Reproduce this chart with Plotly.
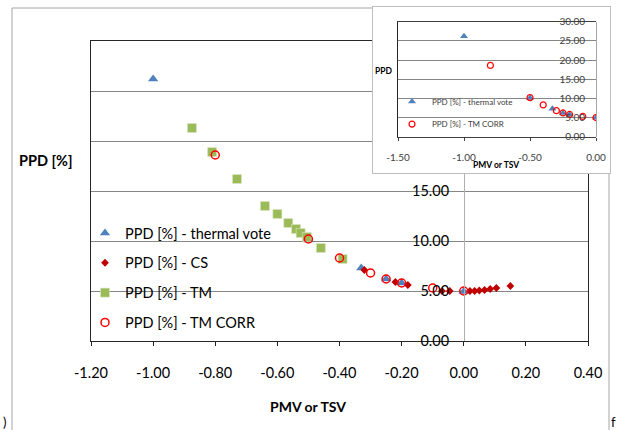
import plotly.graph_objects as go

W, H = 619, 430


def px_x(p):
    return p / W


def px_y(p):
    return 1 - p / H


# ---------------- data ----------------
series_names = ["PPD [%] - thermal vote", "PPD [%] - CS", "PPD [%] - TM", "PPD [%] - TM CORR"]

tv_x = [-1.00, -0.50, -0.33, -0.25, -0.20, 0.00]
tv_y = [26.2, 10.1, 7.3, 6.2, 5.8, 4.95]

cs_x = [-0.32, -0.22, -0.18, -0.07, -0.045, 0.02, 0.035, 0.05, 0.067, 0.085, 0.105, 0.15]
cs_y = [7.1, 5.9, 5.6, 5.0, 5.0, 5.0, 5.0, 5.05, 5.1, 5.2, 5.3, 5.5]

tm_x = [-0.875, -0.81, -0.73, -0.64, -0.60, -0.565, -0.54, -0.525, -0.505, -0.46, -0.39]
tm_y = [21.3, 18.9, 16.2, 13.5, 12.7, 11.8, 11.2, 10.8, 10.4, 9.3, 8.2]

tmc_x = [-0.80, -0.50, -0.40, -0.30, -0.25, -0.20, -0.10, 0.00]
tmc_y = [18.6, 10.2, 8.3, 6.8, 6.2, 5.8, 5.3, 5.0]

main_xticks = [-1.2, -1.0, -0.8, -0.6, -0.4, -0.2, 0.0, 0.2, 0.4]
main_xlabels = ["-1.20", "-1.00", "-0.80", "-0.60", "-0.40", "-0.20", "0.00", "0.20", "0.40"]
main_yticks = [0, 5, 10, 15, 20, 25, 30]

inset_xticks = [-1.5, -1.0, -0.5, 0.0]
inset_xlabels = ["-1.50", "-1.00", "-0.50", "0.00"]
inset_yticks = [0, 5, 10, 15, 20, 25, 30]

# ---------------- styles ----------------
BLUE = "#4F81BD"
DRED = "#C00000"
GREEN = "#9BBB59"
RED = "#FF0000"
FONT = "Lato"
DARK = "#262626"
GRID = "#868686"

fig = go.Figure()

# main chart traces
fig.add_trace(go.Scatter(x=tv_x, y=tv_y, mode="markers", name=series_names[0], legendgroup="g1",
                         marker=dict(symbol="triangle-up", size=9, color=BLUE),
                         xaxis="x", yaxis="y", hoverinfo="skip"))
fig.add_trace(go.Scatter(x=cs_x, y=cs_y, mode="markers", name=series_names[1], legendgroup="g2",
                         marker=dict(symbol="diamond", size=6, color=DRED),
                         xaxis="x", yaxis="y", hoverinfo="skip"))
fig.add_trace(go.Scatter(x=tm_x, y=tm_y, mode="markers", name=series_names[2], legendgroup="g3",
                         marker=dict(symbol="square", size=9, color=GREEN,
                                     line=dict(width=0.6, color="#dbe8c4")),
                         xaxis="x", yaxis="y", hoverinfo="skip"))
fig.add_trace(go.Scatter(x=tmc_x, y=tmc_y, mode="markers", name=series_names[3], legendgroup="g4",
                         marker=dict(symbol="circle-open", size=8, color=RED, line=dict(width=1.5)),
                         xaxis="x", yaxis="y", hoverinfo="skip"))
# overlay axis used only for left/right plot-area border
fig.add_trace(go.Scatter(x=[None], y=[None], xaxis="x", yaxis="y4", showlegend=False, hoverinfo="skip"))

# inset frame (white box)
fig.add_trace(go.Scatter(x=[None], y=[None], xaxis="x2", yaxis="y2", showlegend=False, hoverinfo="skip"))

# inset traces
fig.add_trace(go.Scatter(x=tv_x, y=tv_y, mode="markers", name=series_names[0], legend="legend2",
                         legendgroup="h1",
                         marker=dict(symbol="triangle-up", size=7, color=BLUE),
                         xaxis="x3", yaxis="y3", hoverinfo="skip"))
fig.add_trace(go.Scatter(x=tmc_x, y=tmc_y, mode="markers", name=series_names[3], legend="legend2",
                         legendgroup="h2",
                         marker=dict(symbol="circle-open", size=6, color=RED, line=dict(width=1.2)),
                         xaxis="x3", yaxis="y3", hoverinfo="skip"))
fig.add_trace(go.Scatter(x=[None], y=[None], xaxis="x3", yaxis="y5", showlegend=False, hoverinfo="skip"))

tick_font = dict(family=FONT, size=14.5, color="#000000")
inset_font = dict(family=FONT, size=10, color="#404040")

fig.update_layout(
    width=W, height=H, autosize=False,
    margin=dict(l=0, r=0, t=0, b=0, pad=0),
    paper_bgcolor="white", plot_bgcolor="white",
    showlegend=True,
    xaxis=dict(domain=[px_x(91), px_x(588)], range=[-1.2, 0.4], anchor="y",
               tickvals=main_xticks, ticktext=main_xlabels, tickfont=tick_font,
               showgrid=False, zeroline=False, showline=True, mirror=True,
               linecolor=DARK, linewidth=1.2, ticks="outside", ticklen=4, tickcolor=DARK,
               ticklabelstandoff=14, fixedrange=True, automargin=False),
    yaxis=dict(domain=[px_y(341), px_y(41)], range=[0, 30], anchor="free", position=px_x(464),
               side="left", tickvals=main_yticks, tickformat=".2f", tickfont=tick_font,
               showline=True, linecolor="#b0b0b0", linewidth=1,
               showgrid=True, gridcolor=GRID, gridwidth=1, zeroline=False, ticks="",
               ticklabelstandoff=12, fixedrange=True, automargin=False),
    yaxis4=dict(overlaying="y", anchor="x", side="left", range=[0, 30],
                showline=True, mirror=True, linecolor=DARK, linewidth=1.2,
                showgrid=False, zeroline=False, showticklabels=False, ticks="",
                fixedrange=True, automargin=False),
    xaxis2=dict(domain=[px_x(373), px_x(610)], range=[0, 1], anchor="y2",
                showline=True, mirror=True, linecolor="#bfbfbf", linewidth=1,
                showgrid=False, zeroline=False, showticklabels=False, ticks="",
                fixedrange=True, automargin=False),
    yaxis2=dict(domain=[px_y(173), px_y(7)], range=[0, 1], anchor="x2",
                showline=True, mirror=True, linecolor="#bfbfbf", linewidth=1,
                showgrid=False, zeroline=False, showticklabels=False, ticks="",
                fixedrange=True, automargin=False),
    xaxis3=dict(domain=[px_x(398), px_x(596)], range=[-1.5, 0], anchor="y3",
                tickvals=inset_xticks, ticktext=inset_xlabels, tickfont=inset_font,
                showgrid=False, zeroline=False, showline=True, mirror=True,
                linecolor="#404040", linewidth=1, ticks="outside", ticklen=3, tickcolor="#404040",
                ticklabelstandoff=8, fixedrange=True, automargin=False),
    yaxis3=dict(domain=[px_y(136.7), px_y(21.7)], range=[0, 30], anchor="free", position=px_x(596),
                side="left", tickvals=inset_yticks, tickformat=".2f", tickfont=inset_font,
                showline=True, linecolor="#a6a6a6", linewidth=1,
                showgrid=True, gridcolor=GRID, gridwidth=1, zeroline=False, ticks="",
                ticklabelstandoff=9, fixedrange=True, automargin=False),
    yaxis5=dict(overlaying="y3", anchor="x3", side="left", range=[0, 30],
                showline=True, mirror=False, linecolor=DARK, linewidth=1.2,
                showgrid=False, zeroline=False, showticklabels=False, ticks="",
                fixedrange=True, automargin=False),
    legend=dict(x=px_x(85), y=px_y(217), xanchor="left", yanchor="top",
                font=dict(family=FONT, size=14.5, color="#000000"),
                bgcolor="rgba(0,0,0,0)", borderwidth=0, tracegroupgap=8,
                itemsizing="trace", itemclick=False, itemdoubleclick=False),
    legend2=dict(x=px_x(392), y=px_y(87), xanchor="left", yanchor="top",
                 font=dict(family=FONT, size=8, color="#404040"),
                 bgcolor="rgba(0,0,0,0)", borderwidth=0, tracegroupgap=3.6,
                 itemsizing="trace", itemclick=False, itemdoubleclick=False),
    shapes=[
        dict(type="rect", xref="paper", yref="paper", layer="below",
             x0=px_x(12), x1=px_x(609), y0=-0.05, y1=px_y(8),
             line=dict(color="#a6a6a6", width=1), fillcolor="rgba(0,0,0,0)"),
    ],
    annotations=[
        dict(text="<b>PPD [%]</b>", x=px_x(45), y=px_y(160), xref="paper", yref="paper",
             showarrow=False, xanchor="center", yanchor="middle",
             font=dict(family=FONT, size=14.5, color="#000000")),
        dict(text="<b>PMV or TSV</b>", x=px_x(308), y=px_y(406), xref="paper", yref="paper",
             showarrow=False, xanchor="center", yanchor="middle",
             font=dict(family=FONT, size=14, color="#000000")),
        dict(text="<b>PPD</b>", x=px_x(384), y=px_y(71), xref="paper", yref="paper",
             showarrow=False, xanchor="center", yanchor="middle",
             font=dict(family=FONT, size=8.5, color="#000000")),
        dict(text="<b>PMV or TSV</b>", x=px_x(495.5), y=px_y(165), xref="paper", yref="paper",
             showarrow=False, xanchor="center", yanchor="middle",
             font=dict(family=FONT, size=8.5, color="#000000")),
        dict(text=")", x=px_x(2), y=px_y(422), xref="paper", yref="paper",
             showarrow=False, xanchor="left", yanchor="middle", borderpad=0,
             font=dict(family=FONT, size=13, color="#000000")),
        dict(text="f", x=px_x(617), y=px_y(422), xref="paper", yref="paper",
             showarrow=False, xanchor="right", yanchor="middle", borderpad=0,
             font=dict(family=FONT, size=13, color="#000000")),
    ],
)

fig.write_html("out.html")
